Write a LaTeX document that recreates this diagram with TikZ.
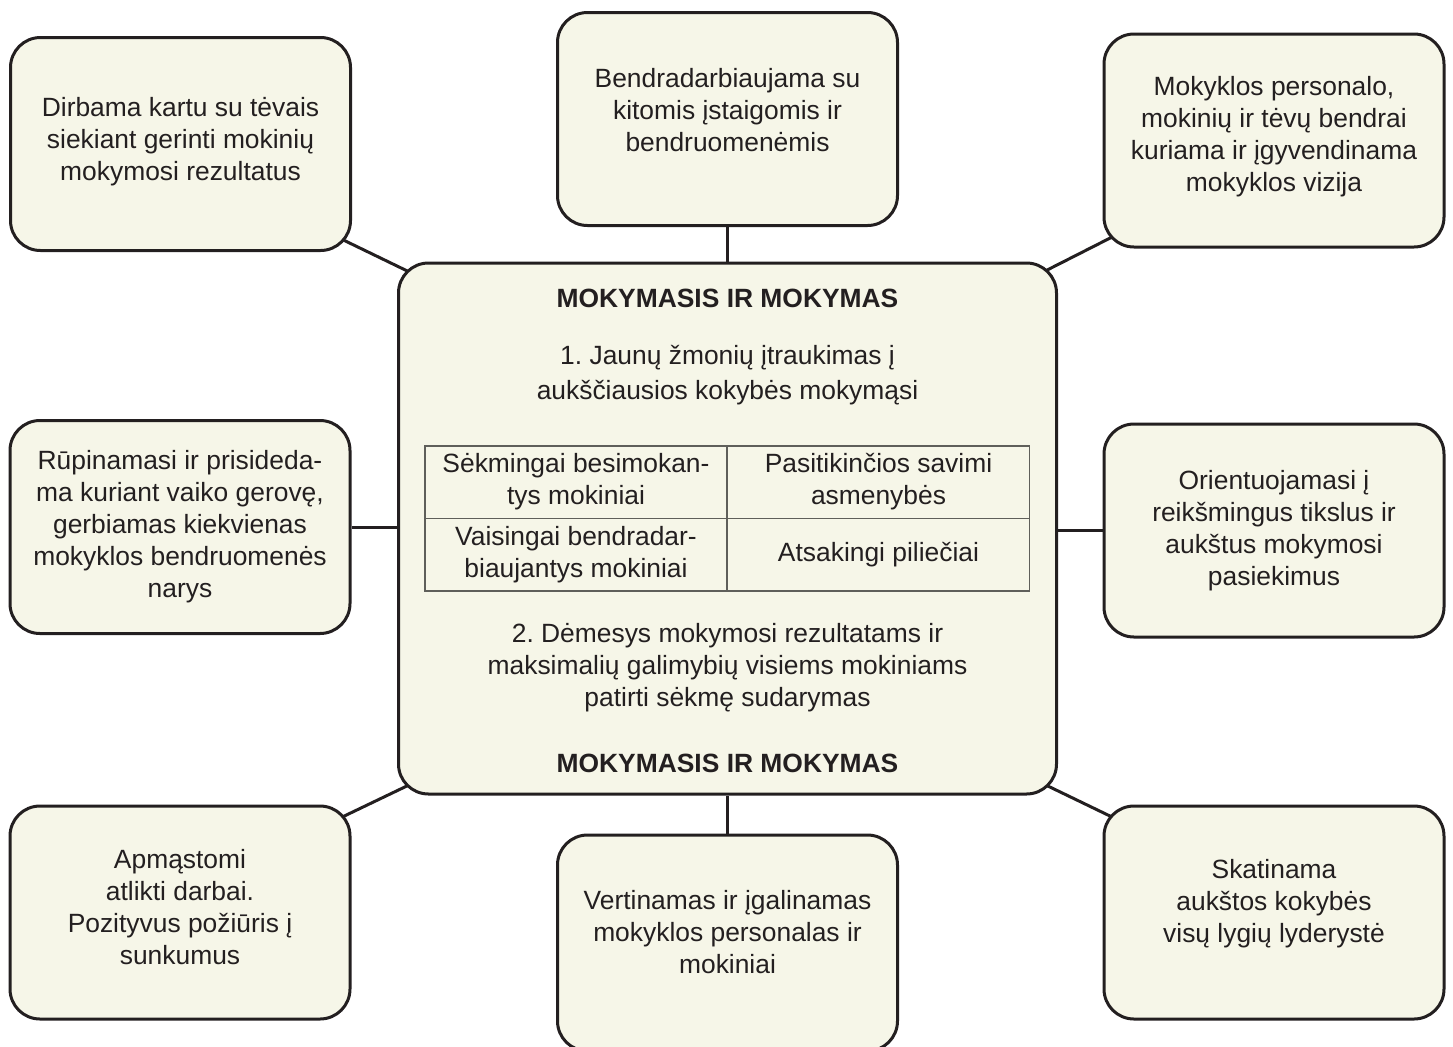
\documentclass[tikz,border=0pt]{standalone}
\usepackage{fontspec}
\setmainfont{Liberation Sans}
\usepackage{xcolor}
\definecolor{boxfill}{RGB}{246, 246, 232}
\definecolor{inkgray}{RGB}{35, 31, 32}
\definecolor{gridgray}{RGB}{95, 95, 90}
\usepackage{tikz}
\usetikzlibrary{backgrounds}
\frenchspacing

\begin{document}
\begin{tikzpicture}[x=0.5pt, y=-0.5pt,
    every node/.style={text=inkgray, align=center, font=\fontsize{13.2}{16}\selectfont},
    idea/.style={draw=inkgray, fill=boxfill, line width=1.5pt, rounded corners=15pt,
        minimum width=170pt, minimum height=106.5pt, inner sep=0pt},
    lift/.style={text depth=#1},
    hub/.style={idea, minimum width=329pt, minimum height=265.5pt},
    cell/.style={draw=gridgray, line width=0.75pt, minimum width=151pt, minimum height=36.25pt, inner sep=0pt},
    link/.style={draw=inkgray, line width=1.5pt}]
    \useasboundingbox (0,0) rectangle (1453,1046);

    % central block
    \node[hub] (mid) at (727.5,528.5) {};
    \node (title) at (727.5,298) {\bfseries MOKYMASIS IR MOKYMAS};
    \node (aim) at (727.5,375) {1. Jaunų žmonių įtraukimas į\\[1.5pt]aukščiausios kokybės mokymąsi};
    \node[cell] (c11) at (576,482) {Sėkmingai besimokan-\\tys mokiniai};
    \node[cell] (c12) at (878.5,482) {Pasitikinčios savimi\\asmenybės};
    \node[cell] (c21) at (576,554.5) {Vaisingai bendradar-\\biaujantys mokiniai};
    \node[cell] (c22) at (878.5,554.5) {Atsakingi piliečiai};
    \node (focus) at (727.5,668) {2. Dėmesys mokymosi rezultatams ir\\maksimalių galimybių visiems mokiniams\\patirti sėkmę sudarymas};
    \node (foot) at (727.5,763) {\bfseries MOKYMASIS IR MOKYMAS};

    % surrounding boxes
    \node[idea, lift=5pt] (tl) at (180.5,144) {Dirbama kartu su tėvais\\siekiant gerinti mokinių\\mokymosi rezultatus};
    \node[idea, lift=9pt] (tc) at (727.5,119) {Bendradarbiaujama su\\kitomis įstaigomis ir\\bendruomenėmis};
    \node[idea, lift=6.8pt] (tr) at (1274,140.5) {Mokyklos personalo,\\mokinių ir tėvų bendrai\\kuriama ir įgyvendinama\\mokyklos vizija};
    \node[idea] (ml) at (180,527) {Rūpinamasi ir prisideda-\\ma kuriant vaiko gerovę,\\gerbiamas kiekvienas\\mokyklos bendruomenės\\narys};
    \node[idea] (mr) at (1274,530.5) {Orientuojamasi į\\reikšmingus tikslus ir\\aukštus mokymosi\\pasiekimus};
    \node[idea, lift=6pt] (bl) at (180,912.5) {Apmąstomi\\atlikti darbai.\\Pozityvus požiūris į\\sunkumus};
    \node[idea, lift=11pt, minimum height=108pt] (bc) at (727.5,943) {Vertinamas ir įgalinamas\\mokyklos personalas ir\\mokiniai};
    \node[idea, lift=11.8pt] (br) at (1274,912.5) {Skatinama\\aukštos kokybės\\visų lygių lyderystė};

    % connectors behind the boxes
    \begin{scope}[on background layer]
        \draw[link] (tc) -- (mid);
        \draw[link] (bc) -- (mid);
        \draw[link] (ml.east) -- (ml.east -| mid.west);
        \draw[link] (mr.west) -- (mr.west -| mid.east);
        \draw[link] ([shift={(-52,-33)}]tl.south east) -- ([shift={(63,35)}]mid.north west);
        \draw[link] ([shift={(52,-33)}]tr.south west) -- ([shift={(-63,35)}]mid.north east);
        \draw[link] ([shift={(-52,33)}]bl.north east) -- ([shift={(63,-35)}]mid.south west);
        \draw[link] ([shift={(52,33)}]br.north west) -- ([shift={(-63,-35)}]mid.south east);
    \end{scope}
\end{tikzpicture}
\end{document}
